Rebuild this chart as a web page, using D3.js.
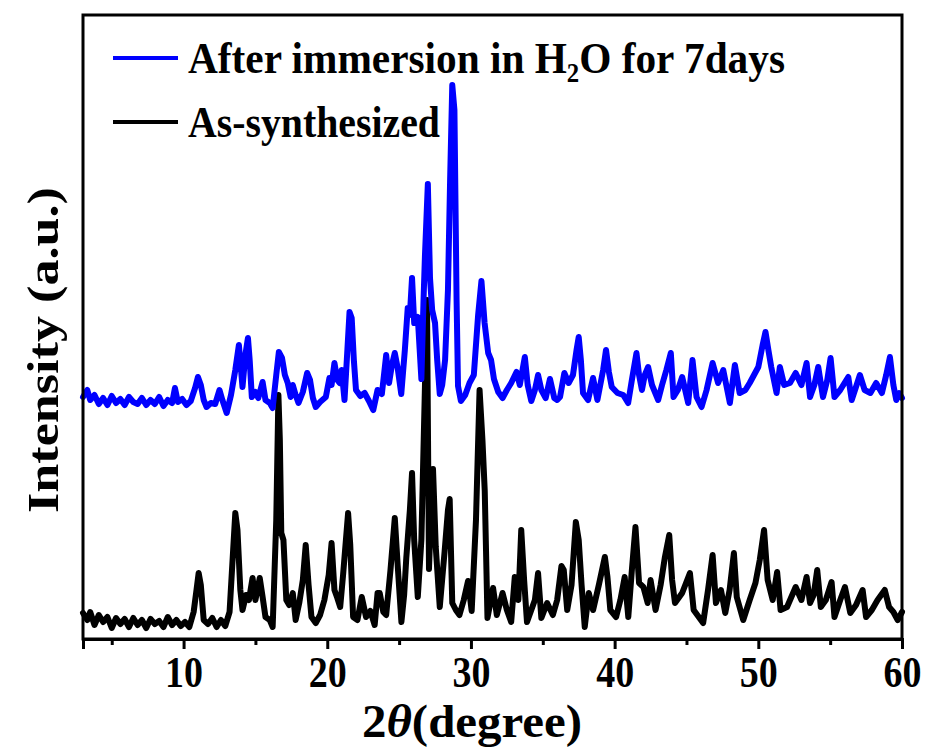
<!DOCTYPE html>
<html>
<head>
<meta charset="utf-8">
<script src="https://cdn.jsdelivr.net/npm/d3@7"></script>
<style>
  body { margin: 0; background: #fff; }
  text { font-family: "Liberation Serif", "Times New Roman", serif; font-weight: bold; }
</style>
</head>
<body>
<div id="container"></div>
<script>
/* CONSTANTS AND GLOBALS */
const width = 930;
const height = 749;
const margin = { top: 15, right: 28, bottom: 110, left: 83 };

/* DATA - [2theta, intensity (a.u.)] */
// after immersion in H2O for 7 days (blue)
const immersedScan = [
  [3.0, 242], [3.3, 249], [3.5, 239], [3.8, 244], [4.1, 235], [4.4, 241], [4.7, 234], [5.0, 243], [5.3, 236], [5.6, 240],
  [5.9, 234], [6.2, 242], [6.5, 237], [6.8, 235], [7.1, 241], [7.4, 234], [7.7, 239], [8.0, 235], [8.3, 242], [8.6, 233],
  [8.9, 239], [9.2, 236], [9.4, 251], [9.6, 237], [9.9, 240], [10.2, 234], [10.5, 238], [10.8, 251], [11.0, 262], [11.2, 254],
  [11.4, 239], [11.6, 232], [11.9, 236], [12.2, 235], [12.5, 249], [12.7, 239], [13.0, 226], [13.3, 244], [13.6, 269], [13.85, 294],
  [14.0, 269], [14.1, 252], [14.3, 284], [14.48, 301], [14.6, 279], [14.75, 242], [15.0, 247], [15.2, 241], [15.5, 257], [15.7, 239],
  [16.0, 236], [16.2, 231], [16.45, 264], [16.63, 287], [16.85, 281], [17.05, 264], [17.25, 256], [17.45, 242], [17.6, 254], [17.8, 244],
  [18.0, 236], [18.3, 247], [18.6, 266], [18.8, 259], [19.0, 241], [19.2, 232], [19.5, 237], [19.9, 242], [20.15, 261], [20.3, 254],
  [20.5, 276], [20.7, 259], [20.86, 256], [21.0, 269], [21.2, 239], [21.4, 289], [21.55, 327], [21.7, 321], [21.85, 279], [22.0, 249],
  [22.3, 243], [22.6, 246], [22.9, 238], [23.2, 229], [23.5, 249], [23.8, 245], [24.1, 284], [24.3, 256], [24.5, 274], [24.7, 286],
  [24.9, 271], [25.15, 245], [25.4, 289], [25.6, 331], [25.75, 324], [25.9, 361], [26.05, 316], [26.3, 322], [26.55, 260], [26.7, 339],
  [26.8, 384], [27.0, 455], [27.15, 361], [27.3, 329], [27.5, 316], [27.65, 279], [27.83, 245], [28.0, 254], [28.2, 279], [28.4, 349],
  [28.55, 459], [28.7, 554], [28.85, 529], [29.0, 339], [29.1, 253], [29.3, 238], [29.6, 244], [29.9, 256], [30.2, 264], [30.5, 324],
  [30.73, 358], [30.95, 316], [31.2, 286], [31.4, 279], [31.6, 260], [31.9, 247], [32.2, 241], [32.5, 249], [32.8, 256], [33.17, 267],
  [33.4, 254], [33.75, 282], [33.95, 254], [34.2, 238], [34.45, 249], [34.67, 264], [34.9, 249], [35.2, 241], [35.5, 260], [35.8, 241],
  [36.0, 239], [36.2, 242], [36.5, 266], [36.8, 256], [37.1, 264], [37.35, 289], [37.5, 302], [37.65, 279], [37.8, 246], [38.15, 239],
  [38.5, 261], [38.8, 239], [39.2, 269], [39.4, 289], [39.6, 267], [39.8, 252], [40.2, 246], [40.6, 244], [40.94, 236], [41.2, 259],
  [41.52, 286], [41.7, 264], [41.9, 249], [42.1, 264], [42.33, 272], [42.6, 254], [43.03, 239], [43.3, 254], [43.6, 269], [43.91, 286],
  [44.1, 242], [44.4, 249], [44.7, 262], [45.12, 236], [45.42, 279], [45.7, 242], [46.05, 232], [46.4, 249], [46.82, 276], [47.2, 256],
  [47.56, 269], [48.02, 236], [48.37, 274], [48.7, 246], [49.1, 249], [49.4, 256], [49.7, 264], [50.0, 272], [50.3, 294], [50.5, 307],
  [50.7, 289], [50.9, 272], [51.27, 246], [51.5, 272], [51.8, 254], [52.2, 256], [52.6, 266], [53.0, 254], [53.36, 276], [53.6, 242],
  [53.9, 254], [54.17, 272], [54.5, 242], [54.8, 259], [55.03, 281], [55.3, 242], [55.7, 249], [56.26, 262], [56.5, 239], [57.07, 264],
  [57.4, 249], [57.8, 246], [58.2, 256], [58.6, 246], [58.9, 264], [59.16, 282], [59.4, 254], [59.6, 239], [59.8, 246], [60.0, 241]
];

// as-synthesized (black)
const synthesizedScan = [
  [3.0, 26], [3.3, 19], [3.5, 27], [3.8, 14], [4.1, 24], [4.4, 17], [4.7, 22], [5.0, 11], [5.3, 21], [5.6, 15],
  [5.9, 20], [6.2, 12], [6.5, 21], [6.8, 14], [7.1, 19], [7.4, 11], [7.7, 20], [8.0, 15], [8.3, 18], [8.6, 12],
  [8.9, 22], [9.2, 14], [9.5, 19], [9.8, 13], [10.1, 17], [10.4, 12], [10.7, 27], [10.9, 49], [11.05, 66], [11.2, 54],
  [11.4, 19], [11.7, 15], [12.0, 21], [12.3, 12], [12.6, 19], [12.9, 13], [13.2, 27], [13.45, 89], [13.6, 126], [13.75, 109],
  [13.95, 49], [14.1, 29], [14.35, 44], [14.55, 39], [14.8, 61], [15.0, 39], [15.3, 61], [15.5, 42], [15.7, 22], [16.0, 19],
  [16.2, 12], [16.45, 119], [16.6, 244], [16.7, 199], [16.8, 106], [16.95, 99], [17.15, 39], [17.35, 34], [17.6, 46], [17.8, 19],
  [18.05, 36], [18.3, 59], [18.5, 94], [18.7, 54], [18.9, 22], [19.2, 16], [19.5, 24], [19.8, 39], [20.1, 64], [20.3, 96],
  [20.5, 49], [20.7, 41], [20.9, 32], [21.1, 64], [21.45, 126], [21.6, 94], [21.8, 22], [22.1, 19], [22.4, 42], [22.7, 22],
  [23.0, 28], [23.3, 14], [23.5, 46], [23.65, 46], [23.9, 27], [24.1, 24], [24.4, 69], [24.7, 121], [24.9, 74], [25.16, 17],
  [25.35, 44], [25.5, 81], [25.75, 129], [25.9, 166], [26.05, 99], [26.3, 42], [26.55, 99], [26.78, 241], [26.94, 339], [27.08, 70],
  [27.2, 119], [27.36, 170], [27.55, 92], [27.83, 32], [28.17, 88], [28.4, 129], [28.52, 140], [28.7, 36], [28.95, 29], [29.2, 24],
  [29.5, 39], [29.8, 58], [30.05, 28], [30.35, 119], [30.6, 249], [30.8, 199], [30.96, 148], [31.15, 21], [31.54, 51], [31.8, 24],
  [32.2, 46], [32.5, 29], [32.8, 17], [33.05, 62], [33.3, 39], [33.5, 109], [33.7, 59], [33.9, 17], [34.2, 29], [34.45, 39],
  [34.67, 66], [34.9, 21], [35.3, 36], [35.7, 24], [36.0, 39], [36.3, 73], [36.46, 69], [36.7, 29], [37.0, 54], [37.3, 117],
  [37.5, 99], [37.7, 54], [37.92, 12], [38.2, 46], [38.5, 29], [38.9, 54], [39.32, 82], [39.5, 62], [39.7, 29], [40.1, 22],
  [40.4, 39], [40.7, 62], [40.95, 22], [41.2, 69], [41.45, 112], [41.7, 56], [42.0, 52], [42.3, 36], [42.5, 59], [42.85, 29],
  [43.2, 54], [43.5, 82], [43.8, 104], [44.0, 59], [44.2, 36], [44.7, 46], [45.24, 66], [45.5, 29], [46.16, 16], [46.5, 49],
  [46.82, 84], [47.05, 36], [47.4, 49], [47.7, 26], [48.0, 49], [48.3, 86], [48.5, 42], [48.95, 19], [49.4, 39], [49.8, 56],
  [50.1, 79], [50.4, 109], [50.65, 59], [51.0, 39], [51.31, 67], [51.55, 29], [52.0, 32], [52.6, 52], [53.0, 39], [53.36, 62],
  [53.6, 36], [53.85, 44], [54.1, 69], [54.35, 32], [54.7, 39], [55.1, 57], [55.3, 22], [55.7, 39], [56.03, 52], [56.4, 26],
  [56.8, 34], [57.26, 49], [57.5, 22], [57.9, 29], [58.3, 39], [58.8, 49], [59.1, 32], [59.4, 27], [59.7, 19], [60.0, 27]
];

const majorTicks = [10, 20, 30, 40, 50, 60];
const minorTicks = [5, 15, 25, 35, 45, 55];
const xDomain = [3, 60];
const yDomain = [0, 624];

/* SCALES */
const xScale = d3.scaleLinear()
  .domain(xDomain)
  .range([margin.left, width - margin.right]);

const yScale = d3.scaleLinear()
  .domain(yDomain)
  .range([height - margin.bottom, margin.top]);

/* HTML ELEMENTS */
const svg = d3.select("#container")
  .append("svg")
  .attr("width", width)
  .attr("height", height);

const line = d3.line()
  .x(d => xScale(d[0]))
  .y(d => yScale(d[1]));

// traces - black first, blue over it
svg.append("path")
  .datum(synthesizedScan)
  .attr("fill", "none")
  .attr("stroke", "#000")
  .attr("stroke-width", 6)
  .attr("stroke-linejoin", "round")
  .attr("stroke-linecap", "round")
  .attr("d", line);

svg.append("path")
  .datum(immersedScan)
  .attr("fill", "none")
  .attr("stroke", "#0000ff")
  .attr("stroke-width", 6)
  .attr("stroke-linejoin", "round")
  .attr("stroke-linecap", "round")
  .attr("d", line);

// frame
svg.append("rect")
  .attr("x", margin.left)
  .attr("y", margin.top)
  .attr("width", width - margin.left - margin.right)
  .attr("height", height - margin.top - margin.bottom)
  .attr("fill", "none")
  .attr("stroke", "#000")
  .attr("stroke-width", 3);

// x axis: minor ticks, then major ticks with labels
const xMinor = d3.axisBottom(xScale)
  .tickValues(minorTicks)
  .tickSize(6)
  .tickFormat("");

const xAxis = d3.axisBottom(xScale)
  .tickValues(majorTicks)
  .tickSize(10)
  .tickPadding(6)
  .tickFormat(d3.format("d"));

svg.append("g")
  .attr("transform", `translate(0, ${height - margin.bottom})`)
  .call(xMinor)
  .call(g => g.select(".domain").remove())
  .call(g => g.selectAll("line").attr("stroke-width", 3));

const gx = svg.append("g")
  .attr("transform", `translate(0, ${height - margin.bottom})`)
  .call(xAxis);

gx.select(".domain").attr("stroke-width", 3);
gx.selectAll("line").attr("stroke-width", 3);
gx.selectAll("text")
  .attr("font-size", 44)
  .attr("fill", "#000")
  .attr("dy", "0.72em")
  .attr("textLength", 38)
  .attr("lengthAdjust", "spacingAndGlyphs");

// axis titles
const xTitle = svg.append("text")
  .attr("x", 472)
  .attr("y", 737)
  .attr("text-anchor", "middle")
  .attr("font-size", 46)
  .attr("textLength", 220)
  .attr("lengthAdjust", "spacingAndGlyphs");
xTitle.append("tspan").text("2");
xTitle.append("tspan").attr("font-style", "italic").text("θ");
xTitle.append("tspan").text("(degree)");

svg.append("text")
  .attr("transform", "translate(58, 350) scale(0.9, 1) rotate(-90)")
  .attr("text-anchor", "middle")
  .attr("font-size", 50)
  .attr("textLength", 326)
  .attr("lengthAdjust", "spacingAndGlyphs")
  .text("Intensity (a.u.)");

// legend
const legend = svg.append("g");

legend.append("line")
  .attr("x1", 113).attr("x2", 178)
  .attr("y1", 58).attr("y2", 58)
  .attr("stroke", "#0000ff")
  .attr("stroke-width", 4);

legend.append("text")
  .attr("x", 188)
  .attr("y", 73)
  .attr("font-size", 45)
  .attr("textLength", 597)
  .attr("lengthAdjust", "spacingAndGlyphs")
  .text("After immersion in H\u2082O for 7days");

legend.append("line")
  .attr("x1", 113).attr("x2", 178)
  .attr("y1", 122).attr("y2", 122)
  .attr("stroke", "#000")
  .attr("stroke-width", 4);

legend.append("text")
  .attr("x", 188)
  .attr("y", 137)
  .attr("font-size", 45)
  .attr("textLength", 252)
  .attr("lengthAdjust", "spacingAndGlyphs")
  .text("As-synthesized");
</script>
</body>
</html>
